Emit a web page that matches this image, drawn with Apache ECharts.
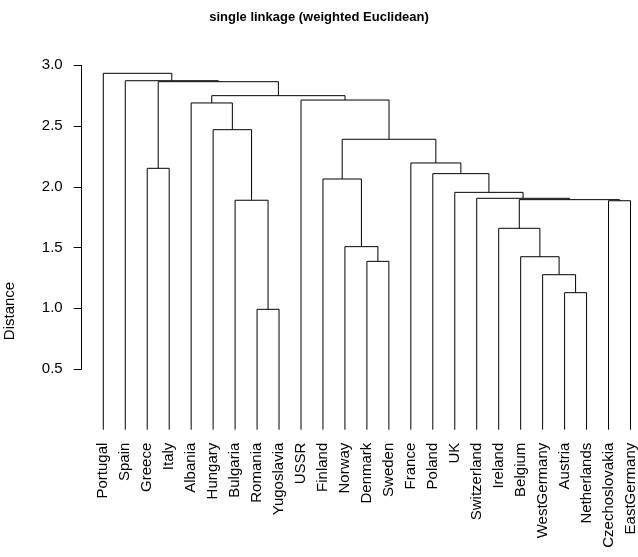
<!DOCTYPE html>
<html><head><meta charset="utf-8">
<script src="https://cdn.jsdelivr.net/npm/echarts@6/dist/echarts.min.js"></script>
<style>html,body{margin:0;padding:0;background:#fff}#c{width:638px;height:557px}</style>
</head><body><div id="c"></div>
<script>
// leaf order (left to right)
const leaves = ["Portugal","Spain","Greece","Italy","Albania","Hungary","Bulgaria","Romania","Yugoslavia","USSR","Finland","Norway","Denmark","Sweden","France","Poland","UK","Switzerland","Ireland","Belgium","WestGermany","Austria","Netherlands","Czechoslovakia","EastGermany"];
// merge steps (negative = leaf number in order, positive = earlier merge step)
const mergeA = [-8,-22,-21,-13,-20,-12,-19,-24,-7,7,-18,-17,-11,-16,-3,-15,13,-6,-5,-10,19,15,-2,-1];
const mergeB = [-9,-23,2,-14,3,4,5,-25,1,8,10,11,6,12,-4,14,16,9,18,17,20,21,22,23];
const mergeHeight = [0.991,1.128,1.276,1.386,1.424,1.507,1.658,1.885,1.889,1.894,1.905,1.954,2.064,2.108,2.152,2.196,2.391,2.470,2.690,2.714,2.750,2.865,2.873,2.934];
const yTicks = [0.5,1.0,1.5,2.0,2.5,3.0];

const nodeX = [];
function pos(k){ return k < 0 ? [-k, 0] : [nodeX[k-1], mergeHeight[k-1]]; }
const segs = [];
for (let i = 0; i < mergeHeight.length; i++) {
  const a = pos(mergeA[i]), b = pos(mergeB[i]), h = mergeHeight[i];
  nodeX.push((a[0] + b[0]) / 2);
  segs.push({coords: [[a[0], a[1]], [a[0], h], [b[0], h], [b[0], b[1]]]});
}

const FONT = 'Liberation Sans, Arial, sans-serif';
const chart = echarts.init(document.getElementById('c'), null, {renderer: 'canvas'});
chart.setOption({
  animation: false,
  backgroundColor: '#fff',
  title: {
    text: 'single linkage (weighted Euclidean)', left: 'center', top: 6,
    textStyle: {fontFamily: FONT, fontSize: 13, fontWeight: 'bold', color: '#000'}
  },
  graphic: [{
    type: 'text', x: 10, y: 311, rotation: Math.PI / 2,
    style: {text: 'Distance', font: '15px ' + FONT, fill: '#000', textAlign: 'center', textVerticalAlign: 'middle'}
  }],
  grid: [
    {left: 103.3, right: 5.7, top: 65.3, height: 364.4},
    {left: 81.7, top: 65.3, height: 303.7, width: 10}
  ],
  xAxis: [
    {type: 'value', gridIndex: 0, min: 1, max: 25, interval: 1,
     axisLine: {show: false}, axisTick: {show: false}, splitLine: {show: false},
     axisLabel: {rotate: 90, margin: 13, fontSize: 15, fontFamily: FONT, color: '#000',
       showMinLabel: true, showMaxLabel: true,
       formatter: v => leaves[Math.round(v) - 1] || ''}},
    {type: 'value', gridIndex: 1, show: false}
  ],
  yAxis: [
    {type: 'value', gridIndex: 0, min: 0, max: 3, show: false},
    {type: 'value', gridIndex: 1, min: yTicks[0], max: yTicks[yTicks.length - 1], interval: 0.5,
     axisLine: {show: true, lineStyle: {color: '#000', width: 1}},
     axisTick: {show: true, length: 8, lineStyle: {color: '#000'}},
     splitLine: {show: false},
     axisLabel: {margin: 19, fontSize: 15, fontFamily: FONT, color: '#000', formatter: v => v.toFixed(1)}}
  ],
  series: [{
    type: 'lines', coordinateSystem: 'cartesian2d', xAxisIndex: 0, yAxisIndex: 0,
    polyline: true, silent: true, clip: false,
    lineStyle: {color: '#000', width: 1, opacity: 1},
    data: segs
  }]
});
</script></body></html>
